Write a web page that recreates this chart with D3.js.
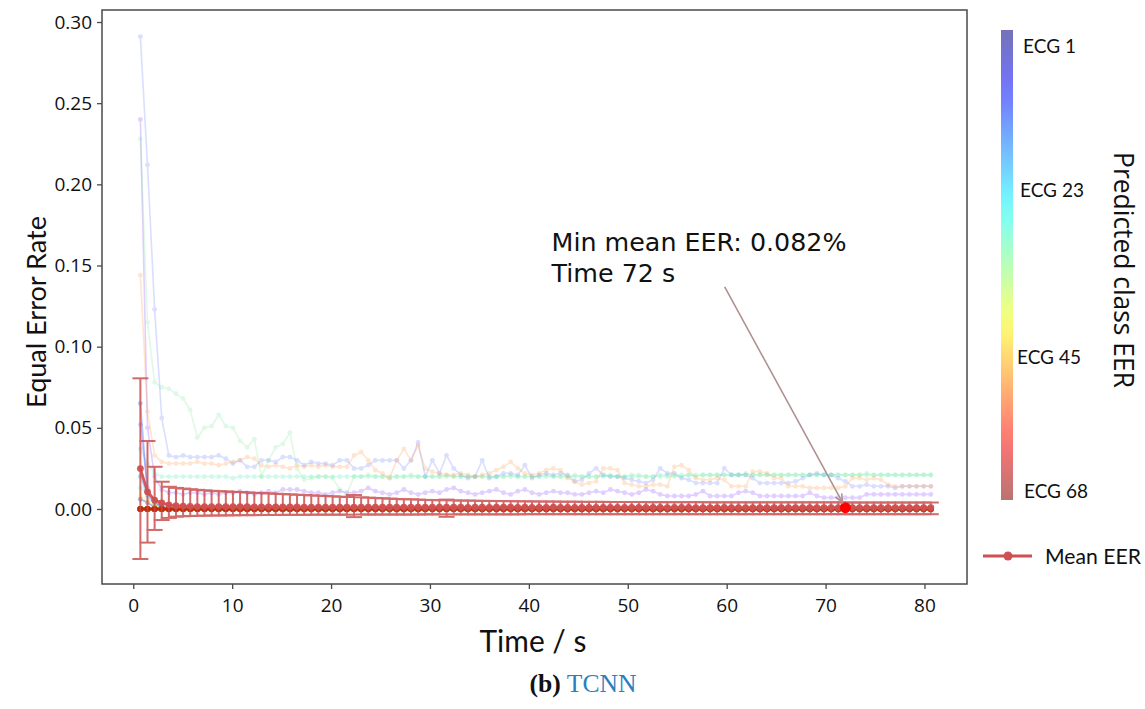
<!DOCTYPE html>
<html><head><meta charset="utf-8">
<script src="https://cdn.jsdelivr.net/npm/d3@7"></script>
<style>body{margin:0;background:#fff}svg{display:block}</style>
</head><body>
<svg id="c" width="1145" height="709"></svg>
<script>
// ---------------- DATA ----------------
const times = [0.72,1.44,2.16,2.88,3.6,4.32,5.04,5.76,6.48,7.2,
7.92,8.64,9.36,10.08,10.8,11.52,12.24,12.96,13.68,14.4,
15.12,15.84,16.56,17.28,18,18.72,19.44,20.16,20.88,21.6,
22.32,23.04,23.76,24.48,25.2,25.92,26.64,27.36,28.08,28.8,
29.52,30.24,30.96,31.68,32.4,33.12,33.84,34.56,35.28,36,
36.72,37.44,38.16,38.88,39.6,40.32,41.04,41.76,42.48,43.2,
43.92,44.64,45.36,46.08,46.8,47.52,48.24,48.96,49.68,50.4,
51.12,51.84,52.56,53.28,54,54.72,55.44,56.16,56.88,57.6,
58.32,59.04,59.76,60.48,61.2,61.92,62.64,63.36,64.08,64.8,
65.52,66.24,66.96,67.68,68.4,69.12,69.84,70.56,71.28,72,
72.72,73.44,74.16,74.88,75.6,76.32,77.04,77.76,78.48,79.2,
79.92,80.64];

const eerBlue = [.291,.212,.123,.056,.033,.032,.033,.032,.032,.032,
.032,.033,.031,.028,.030,.026,.026,.030,.030,.029,
.032,.032,.030,.027,.029,.028,.028,.027,.030,.030,
.025,.025,.027,.030,.030,.030,.030,.025,.030,.041,
.020,.030,.022,.033,.025,.021,.019,.020,.030,.019,
.020,.022,.022,.021,.027,.019,.021,.022,.021,.022,
.021,.017,.018,.022,.025,.021,.020,.020,.019,.018,
.017,.016,.018,.025,.022,.022,.019,.018,.016,.016,
.016,.016,.025,.021,.021,.021,.019,.016,.016,.016,
.016,.016,.017,.019,.021,.022,.021,.021,.019,.017,
.014,.014,.015,.014,.014,.014,.013,.014,.014,.014,
.014,.014];

const eerPurple = [.240,.050,.020,.012,.010,.010,.009,.010,.010,.009,
.010,.009,.010,.010,.011,.010,.009,.010,.011,.010,
.012,.012,.012,.011,.010,.010,.009,.010,.011,.010,
.010,.011,.013,.011,.010,.009,.010,.012,.010,.009,
.010,.011,.010,.012,.013,.011,.010,.009,.010,.011,
.012,.010,.009,.011,.012,.010,.009,.010,.011,.010,
.010,.009,.009,.010,.011,.010,.012,.011,.010,.009,
.010,.012,.011,.009,.008,.008,.008,.008,.009,.011,
.008,.008,.008,.008,.010,.011,.010,.008,.008,.008,
.008,.008,.008,.008,.010,.008,.007,.007,.007,.007,
.007,.007,.009,.009,.009,.009,.009,.009,.009,.009,
.009,.009];

const eerGreen = [.228,.115,.078,.075,.074,.071,.068,.061,.044,.050,
.051,.058,.051,.050,.042,.038,.043,.020,.030,.038,
.040,.047,.025,.018,.019,.020,.020,.019,.012,.009,
.020,.020,.021,.020,.020,.019,.020,.020,.021,.020,
.020,.020,.020,.021,.020,.020,.020,.020,.020,.020,
.020,.020,.021,.020,.020,.020,.020,.021,.020,.020,
.020,.021,.020,.020,.020,.021,.021,.020,.020,.021,
.021,.020,.020,.021,.021,.021,.021,.021,.020,.021,
.021,.021,.021,.021,.021,.022,.021,.021,.021,.021,
.021,.021,.021,.021,.021,.021,.021,.021,.021,.021,
.021,.021,.022,.021,.021,.021,.021,.021,.021,.021,
.021,.021];

const eerTeal = [.037,.028,.022,.020,.020,.020,.020,.020,.020,.020,
.020,.020,.020,.019,.020,.020,.020,.020,.020,.020,
.020,.020,.020,.020,.020,.020,.020,.020,.020,.020,
.020,.020,.020,.020,.020,.020,.020,.020,.020,.020,
.020,.020,.020,.020,.020,.020,.020,.020,.020,.020,
.020,.020,.020,.020,.020,.020,.020,.020,.020,.020,
.020,.020,.020,.020,.020,.020,.020,.020,.020,.020,
.020,.020,.020,.020,.020,.020,.020,.021,.021,.021,
.021,.021,.021,.021,.021,.021,.021,.021,.021,.021,
.021,.021,.021,.021,.021,.021,.021,.021,.021,.021,
.021,.021,.021,.021,.021,.021,.021,.021,.021,.021,
.021,.021];

const eerOrange = [.144,.060,.033,.029,.028,.028,.028,.028,.029,.028,
.028,.027,.028,.029,.030,.032,.031,.027,.026,.027,
.026,.025,.027,.026,.027,.026,.027,.026,.026,.026,
.033,.035,.030,.024,.022,.019,.030,.037,.030,.039,
.025,.023,.022,.021,.021,.022,.021,.020,.021,.022,
.024,.026,.029,.025,.022,.021,.022,.024,.025,.024,
.019,.017,.015,.016,.017,.025,.025,.024,.016,.015,
.014,.014,.015,.015,.014,.026,.027,.024,.019,.018,
.018,.019,.018,.014,.014,.014,.023,.023,.022,.019,
.019,.014,.014,.014,.013,.013,.013,.013,.013,.014,
.019,.019,.018,.019,.018,.015,.014,.014,.014,.014,
.014,.014];

// classes whose EER is 0 after the first few windows (leading values only)
const spikeLightBlue = [.065,.010,.004,.002];
const spikeViolet = [.052,.013,.005];
const spikeCyan = [.020,.008,.003,.001];
const spikeAqua = [.013,.010,.004];
const spikeYellow = [.008,.005,.002];
const spikeNavy = [.006,.004,.001];

// EER of the remaining classes (all zero)
const eerZero = [0,0,0,0,0,0,0,0,0,0,0,0,0,0,0,0,0,0,0,0,0,0,0,0,0,0,0,0,0,0,
0,0,0,0,0,0,0,0,0,0,0,0,0,0,0,0,0,0,0,0,0,0,0,0,0,0,0,0,0,0,
0,0,0,0,0,0,0,0,0,0,0,0,0,0,0,0,0,0,0,0,0,0,0,0,0,0,0,0,0,0,
0,0,0,0,0,0,0,0,0,0,0,0,0,0,0,0,0,0,0,0,0,0];

const meanEER = [.0249,.0106,.0055,.0037,.0025,.0020,.0018,.0016,.0015,.0015,
.0015,.0015,.0014,.0014,.0014,.0014,.0013,.0013,.0013,.0013,
.0013,.0013,.0013,.0012,.0012,.0012,.0012,.0012,.0012,.0012,
.0012,.0012,.0012,.0012,.0011,.0011,.0011,.0012,.0011,.0012,
.0011,.0011,.0011,.0011,.0011,.0011,.0010,.0011,.0011,.0010,
.0011,.0011,.0011,.0010,.0011,.0010,.0010,.0010,.0011,.0010,
.0010,.0010,.0010,.0010,.0010,.0010,.0010,.0010,.0010,.0010,
.0010,.0010,.0010,.0010,.0009,.0010,.0010,.0010,.0009,.0009,
.0009,.0009,.0010,.0009,.0009,.0009,.0009,.0009,.0009,.0009,
.0009,.0009,.0009,.0009,.0009,.0009,.0009,.0009,.0009,.00082,
.0009,.0009,.0009,.0009,.0009,.0009,.0009,.0009,.0009,.0009,
.0009,.0009];

const meanUpper = [.0805,.0419,.0260,.0168,.0137,.0130,.0126,.0122,.0118,.0115,
.0112,.0110,.0108,.0106,.0104,.0102,.0100,.0098,.0096,.0094,
.0092,.0090,.0088,.0086,.0084,.0082,.0080,.0078,.0076,.0074,
.0086,.0072,.0070,.0068,.0066,.0064,.0062,.0060,.0060,.0058,
.0056,.0055,.0054,.0058,.0053,.0052,.0052,.0051,.0050,.0050,
.0049,.0049,.0048,.0048,.0047,.0047,.0046,.0046,.0046,.0045,
.0045,.0045,.0044,.0044,.0044,.0044,.0043,.0043,.0043,.0043,
.0043,.0042,.0042,.0042,.0042,.0042,.0042,.0042,.0042,.0042,
.0041,.0041,.0041,.0041,.0041,.0041,.0041,.0041,.0041,.0041,
.0041,.0041,.0041,.0041,.0041,.0041,.0041,.0041,.0041,.0040,
.0040,.0040,.0040,.0040,.0040,.0040,.0040,.0040,.0040,.0040,
.0040,.0040];

const meanLower = [-.0308,-.0207,-.0129,-.0068,-.0055,-.0047,-.0045,-.0043,-.0042,-.0041,
-.0040,-.0040,-.0039,-.0039,-.0038,-.0038,-.0038,-.0037,-.0037,-.0037,
-.0036,-.0036,-.0036,-.0036,-.0035,-.0035,-.0035,-.0035,-.0035,-.0035,
-.0050,-.0034,-.0034,-.0034,-.0034,-.0034,-.0034,-.0034,-.0034,-.0034,
-.0033,-.0033,-.0033,-.0048,-.0033,-.0033,-.0033,-.0033,-.0033,-.0033,
-.0033,-.0033,-.0033,-.0033,-.0032,-.0032,-.0032,-.0032,-.0032,-.0032,
-.0032,-.0032,-.0032,-.0032,-.0032,-.0032,-.0032,-.0032,-.0032,-.0032,
-.0032,-.0032,-.0032,-.0032,-.0032,-.0032,-.0032,-.0032,-.0032,-.0032,
-.0032,-.0032,-.0032,-.0032,-.0032,-.0032,-.0032,-.0032,-.0032,-.0032,
-.0032,-.0032,-.0032,-.0032,-.0032,-.0032,-.0032,-.0032,-.0032,-.0032,
-.0032,-.0032,-.0032,-.0032,-.0032,-.0032,-.0032,-.0032,-.0032,-.0032,
-.0032,-.0032];

const minTime = 72;
const minMean = 0.00082;
const annotationLines = ["Min mean EER: 0.082%", "Time 72 s"];
const xTicks = [0,10,20,30,40,50,60,70,80];
const yTicks = [0,0.05,0.10,0.15,0.20,0.25,0.30];
const colorbarLabels = ["ECG 1","ECG 23","ECG 45","ECG 68"];
const nClasses = 68;

// ---------------- CHART ----------------
const svg = d3.select("#c");
const P = {l:102, r:967, t:10, b:584};
const x = d3.scaleLinear().domain([-3.16, 84.3]).range([P.l, P.r]);
const y = d3.scaleLinear().domain([-0.0462, 0.3074]).range([P.b, P.t]);

function jet(v){
  const c = t => Math.max(0, Math.min(1, t));
  return [c(1.5-Math.abs(4*v-3)), c(1.5-Math.abs(4*v-2)), c(1.5-Math.abs(4*v-1))].map(u=>Math.round(u*255));
}
function jetClass(k){ return jet((k-1)/(nClasses-1)); }
const rgb = a => `rgb(${a[0]},${a[1]},${a[2]})`;

const defs = svg.append("defs");
defs.append("clipPath").attr("id","clip")
  .append("rect").attr("x",P.l).attr("y",P.t).attr("width",P.r-P.l).attr("height",P.b-P.t);

const plot = svg.append("g").attr("clip-path","url(#clip)");

function pad(lead){ return eerZero.map((z,i)=> i<lead.length ? lead[i] : z); }

const highlighted = {
  4:  {vals: eerPurple, color: "rgb(150,90,255)", op: 0.28},
  6:  {vals: pad(spikeViolet), color: "rgb(150,90,255)", op: 0.3},
  3:  {vals: pad(spikeNavy), color: rgb(jetClass(3)), op: 0.3},
  9:  {vals: eerBlue, color: "rgb(90,110,255)", op: 0.22},
  14: {vals: pad(spikeLightBlue), color: rgb(jetClass(14)), op: 0.3},
  18: {vals: pad(spikeCyan), color: rgb(jetClass(18)), op: 0.3},
  27: {vals: eerTeal, color: "rgb(40,225,160)", op: 0.2},
  30: {vals: pad(spikeAqua), color: rgb(jetClass(30)), op: 0.3},
  36: {vals: eerGreen, color: "rgb(70,225,110)", op: 0.17},
  44: {vals: pad(spikeYellow), color: rgb(jetClass(44)), op: 0.3},
  52: {vals: eerOrange, color: "rgb(255,150,60)", op: 0.24}
};

const line = d3.line().x((d,i)=>x(times[i])).y(d=>y(d));

for (let k=1;k<=nClasses;k++){
  const h = highlighted[k];
  const vals = h ? h.vals : eerZero;
  const color = h ? h.color : rgb(jetClass(k));
  const op = h ? h.op : 0.1;
  const g = plot.append("g").attr("opacity", op);
  g.append("path").attr("d", line(vals)).attr("fill","none").attr("stroke",color).attr("stroke-width",h?1.6:2.5);
  g.selectAll("circle").data(vals).join("circle")
    .attr("cx",(d,i)=>x(times[i])).attr("cy",d=>y(d)).attr("r",h?2.4:3).attr("fill",color);
}

// mean with error bars
const meanColor = "#cf5050";
const eb = plot.append("g").attr("stroke","#c94646").attr("stroke-width",2).attr("opacity",0.8);
times.forEach((t,i)=>{
  const cx = x(t);
  eb.append("line").attr("x1",cx).attr("x2",cx).attr("y1",y(meanUpper[i])).attr("y2",y(meanLower[i]));
  eb.append("line").attr("x1",cx-8).attr("x2",cx+8).attr("y1",y(meanUpper[i])).attr("y2",y(meanUpper[i]));
  eb.append("line").attr("x1",cx-8).attr("x2",cx+8).attr("y1",y(meanLower[i])).attr("y2",y(meanLower[i]));
});
plot.append("path").attr("d", line(meanEER)).attr("fill","none").attr("stroke",meanColor).attr("stroke-width",2.8).attr("opacity",0.95);
plot.append("g").selectAll("circle").data(meanEER).join("circle")
  .attr("cx",(d,i)=>x(times[i])).attr("cy",d=>y(d)).attr("r",3.4).attr("fill",meanColor).attr("opacity",0.95);

// min point
plot.append("circle").attr("cx",x(minTime)).attr("cy",y(minMean)).attr("r",5.5).attr("fill","#ff0000");

// fit helper
function fit(sel, target){
  const w = sel.node().getComputedTextLength();
  sel.attr("font-size", parseFloat(sel.attr("font-size"))*target/w);
  return sel;
}

// annotation
const annX = 42.3, annY = 0.159, tailX = 59.8, tailY = 0.1368;
const ann1 = svg.append("text").attr("font-family","DejaVu Sans").attr("font-size",23).attr("fill","#111")
  .attr("x",x(annX)).attr("y",y(annY)).text(annotationLines[0]);
fit(ann1, 295);
svg.append("text").attr("font-family","DejaVu Sans").attr("font-size",ann1.attr("font-size")).attr("fill","#111")
  .attr("x",x(annX)).attr("y",y(annY)+31).text(annotationLines[1]);
{
  const x1=x(tailX), y1=y(tailY), x2=x(minTime), y2=y(minMean);
  const L=Math.hypot(x2-x1,y2-y1), ux=(x2-x1)/L, uy=(y2-y1)/L;
  const hx=x2-ux*6, hy=y2-uy*6;
  const ag = svg.append("g").attr("stroke","#b09090").attr("stroke-width",1.6).attr("fill","none");
  ag.append("line").attr("x1",x1).attr("y1",y1).attr("x2",hx).attr("y2",hy);
  const a = Math.atan2(uy,ux), s=9, w=0.42;
  ag.append("path").attr("d",`M${hx-s*Math.cos(a-w)},${hy-s*Math.sin(a-w)}L${hx},${hy}L${hx-s*Math.cos(a+w)},${hy-s*Math.sin(a+w)}`);
}

// frame
svg.append("rect").attr("x",P.l).attr("y",P.t).attr("width",P.r-P.l).attr("height",P.b-P.t)
  .attr("fill","none").attr("stroke","#4a4a4a").attr("stroke-width",1.5);

// axes
const font = "'Open Sans', sans-serif";
const font2 = "Lato, 'Open Sans', sans-serif";
const xAxis = svg.append("g").attr("transform",`translate(0,${P.b})`)
  .call(d3.axisBottom(x).tickValues(xTicks).tickSize(5).tickPadding(10).tickFormat(d3.format("d")));
const yAxis = svg.append("g").attr("transform",`translate(${P.l},0)`)
  .call(d3.axisLeft(y).tickValues(yTicks).tickSize(5).tickPadding(5).tickFormat(d3.format(".2f")));
[xAxis,yAxis].forEach(a=>{
  a.select(".domain").remove();
  a.selectAll(".tick line").attr("stroke","#4a4a4a").attr("stroke-width",1.3);
  a.selectAll(".tick text").attr("font-family",font).attr("font-size",19).attr("fill","#111");
});

fit(svg.append("text").attr("transform","translate(35,312) rotate(-90)").attr("text-anchor","middle")
  .attr("dominant-baseline","central").attr("font-family",font2).attr("font-size",24).attr("fill","#111")
  .text("Equal Error Rate"), 192);
fit(svg.append("text").attr("x",533).attr("y",652).attr("text-anchor","middle")
  .attr("font-family",font2).attr("font-size",28).attr("fill","#111").text("Time / s"), 107);

// colorbar
const cb = {x:1001, w:12, t:30, b:500};
const grad = defs.append("linearGradient").attr("id","jetg")
  .attr("x1",0).attr("y1",0).attr("x2",0).attr("y2",1);
d3.range(0,1.0001,0.05).forEach(v=>{
  const c = jet(v).map(u=>Math.round(u*0.55+255*0.45));
  grad.append("stop").attr("offset",v).attr("stop-color",rgb(c));
});
svg.append("rect").attr("x",cb.x).attr("y",cb.t).attr("width",cb.w).attr("height",cb.b-cb.t).attr("fill","url(#jetg)");
const cbLabelPos = [[1023,45,53],[1020,189,64],[1017,356,64],[1024,490,64]];
colorbarLabels.forEach((s,i)=>{
  fit(svg.append("text").attr("x",cbLabelPos[i][0]).attr("y",cbLabelPos[i][1]).attr("dominant-baseline","central")
    .attr("font-family",font2).attr("font-size",18).attr("fill","#111").text(s), cbLabelPos[i][2]);
});
fit(svg.append("text").attr("transform","translate(1124,270) rotate(90)").attr("text-anchor","middle")
  .attr("dominant-baseline","central").attr("font-family",font).attr("font-size",24).attr("fill","#111")
  .text("Predicted class EER"), 236);

// legend
svg.append("line").attr("x1",983).attr("x2",1032).attr("y1",556).attr("y2",556).attr("stroke",meanColor).attr("stroke-width",3);
svg.append("circle").attr("cx",1008).attr("cy",556).attr("r",4.5).attr("fill",meanColor);
fit(svg.append("text").attr("x",1045).attr("y",556).attr("dominant-baseline","central")
  .attr("font-family",font2).attr("font-size",18).attr("fill","#111").text("Mean EER"), 96);

// caption
const cap = svg.append("text").attr("x",583).attr("y",692).attr("text-anchor","middle")
  .attr("font-family","'Liberation Serif', serif").attr("font-size",24);
cap.append("tspan").attr("font-weight","bold").attr("fill","#111").text("(b)");
cap.append("tspan").attr("fill","#2a7fc0").text(" TCNN");
fit(cap, 107);
</script>
</body></html>
